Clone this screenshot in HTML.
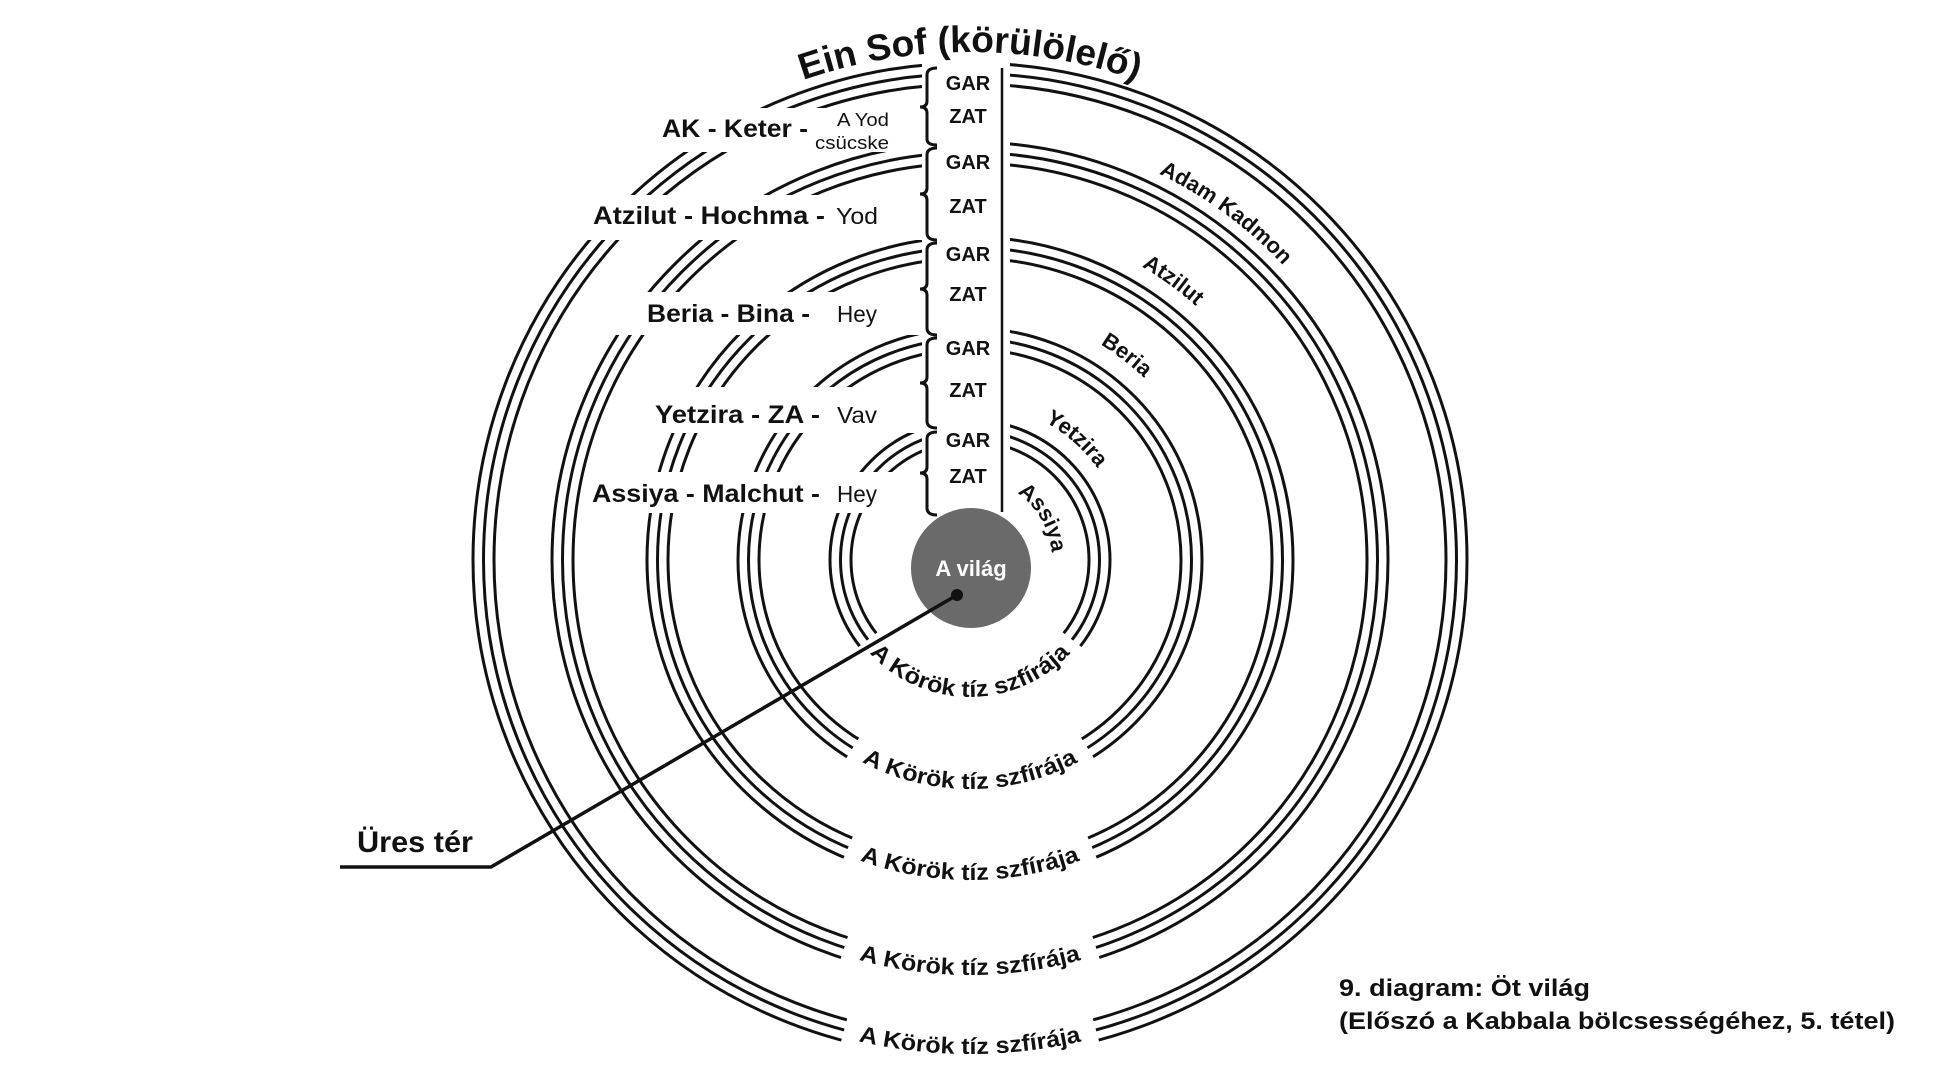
<!DOCTYPE html>
<html><head><meta charset="utf-8"><style>
html,body{margin:0;padding:0;background:#fff;}
svg{display:block;}
text{font-family:"Liberation Sans",Arial,sans-serif;fill:#111;}
</style></head><body>
<svg width="1941" height="1090" viewBox="0 0 1941 1090" xmlns="http://www.w3.org/2000/svg">
<defs>
<path id="pEin" d="M643.5 170.8 A508 508 0 0 1 1296.5 170.8"/>
<path id="pAK" d="M797.9 165.9 A430 430 0 0 1 1397.3 607.9"/>
<path id="pAtz" d="M831.7 249.4 A340 340 0 0 1 1308.1 595.5"/>
<path id="pBer" d="M873.2 327.4 A252 252 0 0 1 1219.9 592.5"/>
<path id="pYet" d="M919.7 411.3 A157 157 0 0 1 1124 590.8"/>
<path id="pAss" d="M970 478 A82 82 0 0 1 1041 601"/>
<path id="b1" d="M851.4 628.5 A137 137 0 0 0 1088.6 628.5"/>
<path id="b2" d="M771.7 674.5 A229 229 0 0 0 1168.3 674.5"/>
<path id="b3" d="M692.9 720 A320 320 0 0 0 1247.1 720"/>
<path id="b4" d="M610.6 767.5 A415 415 0 0 0 1329.4 767.5"/>
<path id="b5" d="M542.2 807 A494 494 0 0 0 1397.8 807"/>
</defs>

<g fill="none" stroke="#111" stroke-width="3">
<circle cx="970" cy="560" r="497"/><circle cx="970" cy="560" r="486.5"/><circle cx="970" cy="560" r="476"/>
<circle cx="970" cy="560" r="418"/><circle cx="970" cy="560" r="407.5"/><circle cx="970" cy="560" r="397"/>
<circle cx="970" cy="560" r="323"/><circle cx="970" cy="560" r="312.5"/><circle cx="970" cy="560" r="302"/>
<circle cx="970" cy="560" r="232"/><circle cx="970" cy="560" r="221.5"/><circle cx="970" cy="560" r="211"/>
<circle cx="970" cy="560" r="140"/><circle cx="970" cy="560" r="129.5"/><circle cx="970" cy="560" r="119"/>
</g>

<g fill="none" stroke="#fff" stroke-width="34">
<circle cx="970" cy="560" r="129.5" pathLength="360" stroke-dasharray="0 38 104 360"/>
<circle cx="970" cy="560" r="221.5" pathLength="360" stroke-dasharray="0 58 64 360"/>
<circle cx="970" cy="560" r="312.5" pathLength="360" stroke-dasharray="0 67 46 360"/>
<circle cx="970" cy="560" r="407.5" pathLength="360" stroke-dasharray="0 72 36 360"/>
<circle cx="970" cy="560" r="486.5" pathLength="360" stroke-dasharray="0 75 30 360"/>
</g>

<g fill="#fff">
<rect x="922" y="0" width="88" height="510"/>
<rect x="650" y="108" width="272" height="44"/>
<rect x="585" y="195" width="337" height="45"/>
<rect x="600" y="292" width="322" height="43"/>
<rect x="620" y="387" width="302" height="46"/>
<rect x="585" y="472" width="337" height="41"/>
</g>

<line x1="1002" y1="68" x2="1002" y2="512" stroke="#111" stroke-width="2.5"/>
<g fill="none" stroke="#111" stroke-width="3">
<path d="M937 68 Q927 68 927 75 L927 101 Q927 107 920 107 Q927 107 927 113 L927 139 Q927 145 937 145"/>
<path d="M937 148 Q927 148 927 155 L927 188 Q927 194 920 194 Q927 194 927 200 L927 233 Q927 240 937 240"/>
<path d="M937 243 Q927 243 927 250 L927 283 Q927 289 920 289 Q927 289 927 295 L927 328 Q927 335 937 335"/>
<path d="M937 338 Q927 338 927 345 L927 377 Q927 383 920 383 Q927 383 927 389 L927 421 Q927 428 937 428"/>
<path d="M937 432 Q927 432 927 439 L927 467 Q927 473 920 473 Q927 473 927 479 L927 508 Q927 515 937 515"/>
</g>
<g font-size="20" text-anchor="middle" font-weight="bold">
<text x="968" y="90">GAR</text><text x="968" y="123">ZAT</text>
<text x="968" y="169">GAR</text><text x="968" y="213">ZAT</text>
<text x="968" y="261">GAR</text><text x="968" y="301">ZAT</text>
<text x="968" y="355">GAR</text><text x="968" y="397">ZAT</text>
<text x="968" y="447">GAR</text><text x="968" y="483">ZAT</text>
</g>

<circle cx="971" cy="568" r="60" fill="#6a6a6a"/>
<text x="971" y="576" text-anchor="middle" font-size="22" font-weight="bold" style="fill:#fff">A világ</text>

<polyline points="340,867 491,867 957,595" fill="none" stroke="#111" stroke-width="3.5"/>
<circle cx="957" cy="595" r="6" fill="#111"/>
<text x="357" y="852" font-size="30" font-weight="bold" textLength="116" lengthAdjust="spacingAndGlyphs">Üres tér</text>

<g font-size="25" font-weight="bold">
<text x="662" y="137" textLength="146" lengthAdjust="spacingAndGlyphs">AK - Keter -</text>
<text x="593" y="224" textLength="232" lengthAdjust="spacingAndGlyphs">Atzilut - Hochma -</text>
<text x="647" y="322" textLength="163" lengthAdjust="spacingAndGlyphs">Beria - Bina -</text>
<text x="655" y="423" textLength="165" lengthAdjust="spacingAndGlyphs">Yetzira - ZA -</text>
<text x="592" y="502" textLength="228" lengthAdjust="spacingAndGlyphs">Assiya - Malchut -</text>
</g>
<g font-size="18">
<text x="837" y="126" textLength="52" lengthAdjust="spacingAndGlyphs">A Yod</text>
<text x="815" y="149" textLength="74" lengthAdjust="spacingAndGlyphs">csücske</text>
</g>
<g font-size="23">
<text x="836" y="224" textLength="42" lengthAdjust="spacingAndGlyphs">Yod</text>
<text x="837" y="322" textLength="40" lengthAdjust="spacingAndGlyphs">Hey</text>
<text x="837" y="423" textLength="40" lengthAdjust="spacingAndGlyphs">Vav</text>
<text x="837" y="502" textLength="40" lengthAdjust="spacingAndGlyphs">Hey</text>
</g>

<text font-size="37" font-weight="bold"><textPath href="#pEin" startOffset="50%" text-anchor="middle" textLength="340" lengthAdjust="spacingAndGlyphs">Ein Sof (körülölelő)</textPath></text>

<g font-size="22" font-weight="bold">
<text><textPath href="#pAK" startOffset="50%" text-anchor="middle">Adam Kadmon</textPath></text>
<text><textPath href="#pAtz" startOffset="50%" text-anchor="middle">Atzilut</textPath></text>
<text><textPath href="#pBer" startOffset="50%" text-anchor="middle">Beria</textPath></text>
<text><textPath href="#pYet" startOffset="50%" text-anchor="middle">Yetzira</textPath></text>
<text><textPath href="#pAss" startOffset="50%" text-anchor="middle">Assiya</textPath></text>
</g>

<g font-size="23" font-weight="bold">
<text><textPath href="#b1" startOffset="50%" text-anchor="middle" textLength="225" lengthAdjust="spacingAndGlyphs">A Körök tíz szfírája</textPath></text>
<text><textPath href="#b2" startOffset="50%" text-anchor="middle" textLength="225" lengthAdjust="spacingAndGlyphs">A Körök tíz szfírája</textPath></text>
<text><textPath href="#b3" startOffset="50%" text-anchor="middle" textLength="225" lengthAdjust="spacingAndGlyphs">A Körök tíz szfírája</textPath></text>
<text><textPath href="#b4" startOffset="50%" text-anchor="middle" textLength="225" lengthAdjust="spacingAndGlyphs">A Körök tíz szfírája</textPath></text>
<text><textPath href="#b5" startOffset="50%" text-anchor="middle" textLength="225" lengthAdjust="spacingAndGlyphs">A Körök tíz szfírája</textPath></text>
</g>

<g font-size="24" font-weight="bold">
<text x="1339" y="996" textLength="251" lengthAdjust="spacingAndGlyphs">9. diagram: Öt világ</text>
<text x="1339" y="1029" textLength="556" lengthAdjust="spacingAndGlyphs">(Előszó a Kabbala bölcsességéhez, 5. tétel)</text>
</g>
</svg>
</body></html>
